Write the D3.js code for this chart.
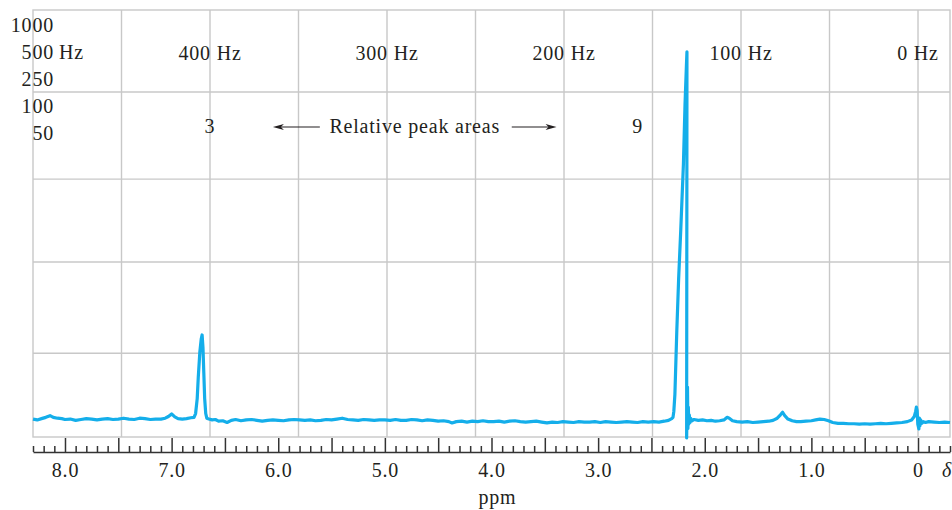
<!DOCTYPE html>
<html>
<head>
<meta charset="utf-8">
<script src="https://cdn.jsdelivr.net/npm/d3@7"></script>
<style>
  body { margin: 0; background: #fff; }
  svg text { font-family: "Liberation Serif", "Times New Roman", serif; font-size: 20px; fill: #231f20; letter-spacing: 0.8px; }
</style>
</head>
<body>
<script>
// chemical shift (ppm) and signal intensity
var ppm = [
  8.30, 8.26, 8.22, 8.18, 8.14, 8.11, 8.07, 8.03, 8.00, 7.95, 7.90, 7.85, 7.80, 7.75, 7.70,
  7.65, 7.60, 7.55, 7.50, 7.45, 7.40, 7.35, 7.30, 7.25, 7.20, 7.15, 7.10, 7.06, 7.03, 7.00,
  6.97, 6.94, 6.90, 6.86, 6.82, 6.79, 6.775, 6.76, 6.75, 6.735, 6.722, 6.714, 6.706, 6.698, 6.69,
  6.68, 6.67, 6.65, 6.62, 6.59, 6.56, 6.52, 6.48, 6.44, 6.40, 6.35, 6.30, 6.25, 6.20, 6.15,
  6.10, 6.05, 6.00, 5.95, 5.90, 5.85, 5.80, 5.75, 5.70, 5.65, 5.60, 5.55, 5.50, 5.45, 5.40,
  5.35, 5.30, 5.25, 5.20, 5.15, 5.10, 5.05, 5.00, 4.95, 4.90, 4.85, 4.80, 4.75, 4.70, 4.65,
  4.60, 4.55, 4.50, 4.45, 4.40, 4.37, 4.33, 4.28, 4.23, 4.18, 4.13, 4.08, 4.03, 3.98, 3.93,
  3.88, 3.83, 3.78, 3.73, 3.68, 3.63, 3.58, 3.53, 3.48, 3.43, 3.38, 3.33, 3.28, 3.23, 3.18,
  3.13, 3.08, 3.03, 2.98, 2.93, 2.88, 2.83, 2.78, 2.73, 2.68, 2.63, 2.58, 2.53, 2.48, 2.43,
  2.38, 2.34, 2.31, 2.298, 2.29, 2.28, 2.262, 2.245, 2.225, 2.20, 2.185, 2.172, 2.167, 2.168, 2.170,
  2.162, 2.158, 2.154, 2.150, 2.145, 2.138, 2.13, 2.12, 2.10, 2.06, 2.02, 1.98, 1.94, 1.90, 1.86,
  1.82, 1.79, 1.77, 1.74, 1.70, 1.65, 1.60, 1.55, 1.50, 1.45, 1.40, 1.36, 1.32, 1.29, 1.27,
  1.25, 1.22, 1.18, 1.14, 1.10, 1.05, 1.00, 0.96, 0.92, 0.88, 0.84, 0.80, 0.75, 0.70, 0.65,
  0.60, 0.55, 0.50, 0.45, 0.40, 0.35, 0.30, 0.25, 0.20, 0.15, 0.10, 0.06, 0.035, 0.022, 0.015,
  0.008, 0.002, -0.008, -0.013, -0.018, -0.025, -0.035, -0.05, -0.07, -0.10, -0.15, -0.20, -0.25, -0.30
];
var intensity = [
  4.2, 4.0, 4.3, 4.6, 5.0, 4.6, 4.4, 4.3, 4.1, 4.2, 3.9, 4.1, 4.3, 4.2, 4.0,
  4.2, 4.3, 4.1, 4.2, 4.4, 4.2, 4.1, 4.4, 4.3, 4.1, 4.2, 4.2, 4.4, 4.8, 5.4,
  4.7, 4.3, 4.2, 4.3, 4.5, 4.6, 5.5, 9.0, 14.0, 20.0, 23.0, 23.9, 21.0, 15.0, 9.0,
  5.5, 4.4, 4.2, 4.0, 4.1, 3.7, 3.8, 3.4, 3.9, 4.1, 3.8, 4.0, 4.1, 3.9, 3.7,
  3.9, 4.0, 3.9, 3.8, 4.0, 4.1, 4.0, 3.9, 4.0, 3.8, 3.9, 4.1, 4.0, 4.2, 4.4,
  4.1, 4.0, 3.9, 4.1, 4.0, 3.9, 4.0, 4.0, 3.9, 4.1, 3.9, 3.9, 4.1, 4.0, 3.8,
  4.0, 3.9, 3.7, 3.8, 3.6, 3.3, 3.6, 3.7, 3.5, 3.7, 3.6, 3.8, 3.6, 3.6, 3.7,
  3.5, 3.7, 3.8, 3.6, 3.5, 3.6, 3.7, 3.5, 3.3, 3.5, 3.4, 3.6, 3.5, 3.4, 3.6,
  3.5, 3.5, 3.6, 3.4, 3.6, 3.5, 3.4, 3.5, 3.6, 3.5, 3.4, 3.6, 3.5, 3.6, 3.5,
  3.7, 3.9, 4.3, 4.6, 6.0, 10.0, 25.0, 37.0, 48.5, 64.0, 78.0, 87.0, 90.2, 50.0, -0.2,
  11.7, 2.0, 7.0, 3.0, 5.2, 3.4, 4.3, 3.8, 4.1, 3.9, 4.0, 3.8, 3.9, 3.7, 3.8,
  4.0, 4.6, 4.4, 3.8, 3.6, 3.5, 3.6, 3.4, 3.5, 3.6, 3.7, 3.9, 4.4, 5.2, 5.8,
  5.0, 4.2, 3.8, 3.6, 3.6, 3.7, 3.8, 4.0, 4.2, 4.1, 3.8, 3.4, 3.2, 3.2, 3.1,
  3.1, 3.0, 3.1, 3.0, 3.1, 3.2, 3.1, 3.2, 3.3, 3.4, 3.6, 4.0, 4.8, 6.0, 7.0,
  6.2, 3.0, 1.9, 4.4, 2.6, 4.0, 3.2, 3.6, 3.4, 3.6, 3.5, 3.4, 3.5, 3.4
];

var axisMajor = [8, 7.5, 7, 6.5, 6, 5.5, 5, 4.5, 4, 3.5, 3, 2.5, 2, 1.5, 1, 0.5, 0];
var axisLabels = ['8.0', '', '7.0', '', '6.0', '', '5.0', '', '4.0', '', '3.0', '', '2.0', '', '1.0', '', '0'];
var hzGrid = [0, 50, 100, 150, 200, 250, 300, 350, 400, 450];
var hzLabels = [400, 300, 200, 100, 0];
var sweepLabels = ['1000', '500', '250', '100', '50'];
var intensityGrid = [19.6, 41.0, 60.4, 80.8];
var areaLabels = ['3', '9'];
var areaPos = [6.64, 2.63];

var W = 952, H = 510;
var mLeft = 33, mRight = 950, mTop = 10, mBottom = 437, axisY = 452;

var svg = d3.select('body').append('svg')
    .attr('width', W)
    .attr('height', H);

var x = d3.scaleLinear().domain([8.3, -0.3]).range([mLeft, mRight]);
var hz = d3.scaleLinear().domain([0, 500]).range([x(0), mLeft]);
var y = d3.scaleLinear().domain([0, 100]).range([mBottom, mTop]);

// grid
var grid = svg.append('g')
    .attr('stroke', '#c8c8c8')
    .attr('stroke-width', 1.4)
    .attr('fill', 'none');

grid.append('rect')
    .attr('x', mLeft).attr('y', mTop)
    .attr('width', mRight - mLeft).attr('height', mBottom - mTop);

grid.selectAll('line.v')
    .data(hzGrid)
    .enter()
    .append('line')
    .attr('class', 'v')
    .attr('x1', function(d) { return hz(d); })
    .attr('x2', function(d) { return hz(d); })
    .attr('y1', mTop)
    .attr('y2', mBottom);

grid.selectAll('line.h')
    .data(intensityGrid)
    .enter()
    .append('line')
    .attr('class', 'h')
    .attr('x1', mLeft)
    .attr('x2', mRight)
    .attr('y1', function(d) { return y(d); })
    .attr('y2', function(d) { return y(d); });

// axis: minor ticks every 0.1 ppm, major every 0.5 ppm
var minor = d3.range(-3, 84).map(function(i) { return i / 10; })
    .filter(function(v) { return Math.abs(v * 2 - Math.round(v * 2)) > 1e-6; });

var gMinor = svg.append('g')
    .attr('transform', 'translate(0,' + axisY + ')')
    .call(d3.axisBottom(x).tickValues(minor).tickSize(-6).tickSizeOuter(0).tickFormat(''));
gMinor.select('.domain').remove();

var gMajor = svg.append('g')
    .attr('transform', 'translate(0,' + axisY + ')')
    .call(d3.axisBottom(x).tickValues(axisMajor).tickSize(-14).tickSizeOuter(0)
      .tickFormat(function(d, i) { return axisLabels[i]; }));

svg.selectAll('.tick line, .domain')
    .attr('stroke', '#333')
    .attr('stroke-width', 1.5);

gMajor.selectAll('.tick text')
    .attr('y', 25)
    .attr('dy', 0);
gMajor.attr('font-family', null).attr('font-size', null);
gMinor.attr('font-family', null).attr('font-size', null);

svg.append('text')
    .attr('x', x(4.0) + 6)
    .attr('y', 504)
    .attr('text-anchor', 'middle')
    .text('ppm');

svg.append('text')
    .attr('x', 942)
    .attr('y', 477)
    .style('font-style', 'italic')
    .text('δ');

// Hz labels and sweep widths
svg.selectAll('text.hz')
    .data(hzLabels)
    .enter()
    .append('text')
    .attr('class', 'hz')
    .attr('x', function(d) { return hz(d); })
    .attr('y', 60)
    .attr('text-anchor', 'middle')
    .text(function(d) { return d + ' Hz'; });

svg.selectAll('text.sweep')
    .data(sweepLabels)
    .enter()
    .append('text')
    .attr('class', 'sweep')
    .attr('x', 54)
    .attr('y', function(d, i) { return 32 + i * 27; })
    .attr('text-anchor', 'end')
    .text(function(d) { return d; });

svg.append('text')
    .attr('x', 59)
    .attr('y', 59)
    .text('Hz');

// relative peak areas
svg.selectAll('text.area')
    .data(areaLabels)
    .enter()
    .append('text')
    .attr('class', 'area')
    .attr('x', function(d, i) { return x(areaPos[i]); })
    .attr('y', 133)
    .attr('text-anchor', 'middle')
    .text(function(d) { return d; });

svg.append('text')
    .attr('x', x(4.72))
    .attr('y', 133)
    .attr('text-anchor', 'middle')
    .text('Relative peak areas');

var arrows = [[5.61, 6.05], [3.81, 3.39]];
arrows.forEach(function(a) {
  var x0 = x(a[0]), x1 = x(a[1]), dir = x1 > x0 ? 1 : -1, ay = 127;
  svg.append('line')
      .attr('x1', x0).attr('x2', x1 - dir * 6)
      .attr('y1', ay).attr('y2', ay)
      .attr('stroke', '#231f20')
      .attr('stroke-width', 1.2);
  svg.append('path')
      .attr('d', 'M' + x1 + ',' + ay + 'L' + (x1 - dir * 11) + ',' + (ay - 3) +
        'L' + (x1 - dir * 8) + ',' + ay + 'L' + (x1 - dir * 11) + ',' + (ay + 3) + 'Z')
      .attr('fill', '#231f20');
});

// spectrum
var line = d3.line()
    .x(function(d) { return x(d[0]); })
    .y(function(d) { return y(d[1]); });

svg.append('path')
    .datum(d3.zip(ppm, intensity))
    .attr('d', line)
    .attr('fill', 'none')
    .attr('stroke', '#14aeea')
    .attr('stroke-width', 3.2)
    .attr('stroke-linejoin', 'round');
</script>
</body>
</html>
